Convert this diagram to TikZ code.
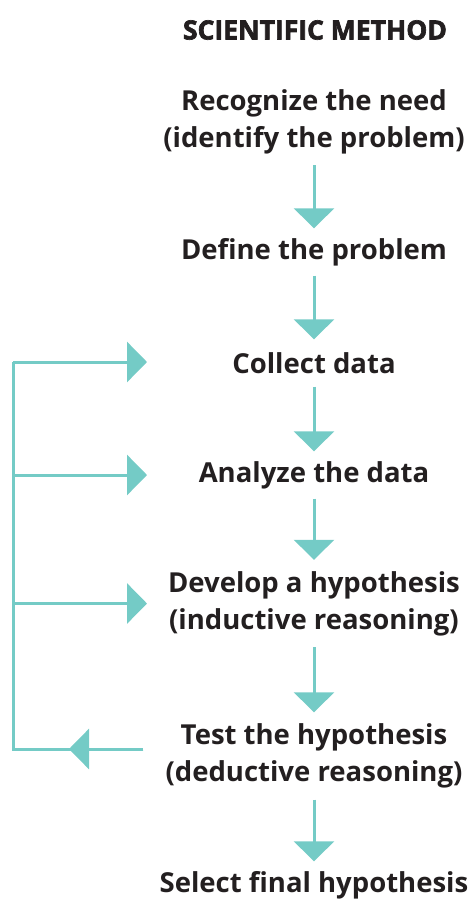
\documentclass[tikz,border=0pt]{standalone}
\usepackage{fontspec}
\setmainfont{Open Sans}
\newfontfamily\ttlfont[BoldFeatures={FakeBold=2.5}]{Open Sans}
\usetikzlibrary{positioning}
\usetikzlibrary{arrows.meta}
\definecolor{tealA}{HTML}{74CBC6}
\definecolor{inkA}{HTML}{231F20}
\tikzset{flow/.style={draw=tealA, line width=3pt, -{Triangle[length=20pt,width=40pt]}}}
\tikzset{loopline/.style={draw=tealA, line width=3pt}}
\tikzset{stp/.style={align=center, inner sep=0pt, text=inkA, font=\bfseries\fontsize{27.5}{37}\selectfont}}
\tikzset{one/.style={stp, minimum height=47pt}}
\tikzset{two/.style={stp, minimum height=87pt}}

\begin{document}
\begin{tikzpicture}[x=1pt, y=-1pt]
        \useasboundingbox (0,0) rectangle (471,903);

        \node[text=inkA, font=\ttlfont\bfseries\fontsize{26.5}{30}\selectfont] (ttl) at (315,30) {SCIENTIFIC METHOD};

        \node[two] (rec) at (314,121.5) {Recognize the need\\(identify the problem)};
        \node[one] (def) at (314,252) {Define the problem};
        \node[one] (col) at (314,363) {Collect data};
        \node[one] (ana) at (314,475) {Analyze the data};
        \node[two] (dev) at (314,603.5) {Develop a hypothesis\\(inductive reasoning)};
        \node[two] (tst) at (314,756) {Test the hypothesis\\(deductive reasoning)};
        \node[one] (sel) at (314,885) {Select final hypothesis};

        \draw[flow] (rec) -- (def);
        \draw[flow] (def) -- (col);
        \draw[flow] (col) -- (ana);
        \draw[flow] (ana) -- (dev);
        \draw[flow] (dev) -- (tst);
        \draw[flow] (tst) -- (sel);

        % feedback loop on the left
        \coordinate (lt) at (13,362);
        \coordinate (lb) at (13,749);
        \coordinate (tip) at (147,0);
        \coordinate (bk) at (69,749);

        \draw[loopline, shorten <=22pt] ([yshift=7pt]tst.west) -- (lb) -- (lt);
        \draw[flow, shorten <=22pt] ([yshift=7pt]tst.west) -- (bk);
        \draw[flow] (lt) -- (tip |- lt);
        \draw[flow] (lt |- ana) -- (tip |- ana);
        \draw[flow] (lt |- dev) -- (tip |- dev);
\end{tikzpicture}
\end{document}
